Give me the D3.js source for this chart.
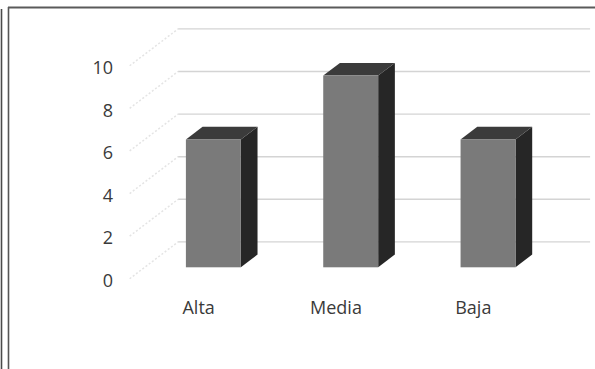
<!DOCTYPE html>
<html>
<head>
<meta charset="utf-8">
<script src="https://cdn.jsdelivr.net/npm/d3@7/dist/d3.min.js"></script>
<style>
  html, body { margin: 0; padding: 0; background: #fff; }
  svg { display: block; }
</style>
</head>
<body>
<svg id="chart" width="595" height="369"></svg>
<script>
// Data
const categories = ["Alta", "Media", "Baja"];
const values = [6, 9, 6];
const yTicks = [0, 2, 4, 6, 8, 10];

const W = 595, H = 369;
const svg = d3.select("#chart");

// Oblique 3D projection: each depth unit shifts right and up
const depthDX = 16.7, depthDY = -12.7;
const zBarFront = 1, zBarBack = 2, zWall = 3;

// Scales on the front (axis) plane
const x = d3.scaleBand().domain(categories).range([128, 540])
  .paddingInner(0.6).paddingOuter(0.3);
const y = d3.scaleLinear().domain([0, 10]).range([280, 67]);

const px = (xv, z) => xv + z * depthDX;
const py = (v, z) => y(v) + z * depthDY;

// Frame
svg.append("line").attr("x1", 1.5).attr("x2", 1.5).attr("y1", 9).attr("y2", H)
  .attr("stroke", "#4a4a4a").attr("stroke-width", 1.6);
svg.append("line").attr("x1", 8.5).attr("x2", 8.5).attr("y1", 7).attr("y2", H)
  .attr("stroke", "#555").attr("stroke-width", 1.6);
svg.append("line").attr("x1", 8).attr("x2", W).attr("y1", 7.5).attr("y2", 7.5)
  .attr("stroke", "#5a5a5a").attr("stroke-width", 2);

// Back wall gridlines
const x0 = x.range()[0], x1 = x.range()[1];
svg.append("g").selectAll("line").data(yTicks).join("line")
  .attr("x1", px(x0, zWall)).attr("x2", px(x1, zWall))
  .attr("y1", d => py(d, zWall)).attr("y2", d => py(d, zWall))
  .attr("stroke", "#d4d4d4").attr("stroke-width", 1.4);

// Side wall depth lines
svg.append("g").selectAll("line").data(yTicks).join("line")
  .attr("x1", px(x0, 0.1)).attr("x2", px(x0, zWall))
  .attr("y1", d => py(d, 0.1)).attr("y2", d => py(d, zWall))
  .attr("stroke", "#e4e4e4").attr("stroke-width", 1.5)
  .attr("stroke-dasharray", "2,2");

// Bars
const bars = svg.append("g").selectAll("g").data(categories.map((c, i) => ({c, v: values[i]})))
  .join("g");
const bw = x.bandwidth();

// right side face
bars.append("path").attr("fill", "#262626")
  .attr("d", d => {
    const xr = x(d.c) + bw;
    return `M${px(xr, zBarFront)},${py(d.v, zBarFront)}` +
      `L${px(xr, zBarBack)},${py(d.v, zBarBack)}` +
      `L${px(xr, zBarBack)},${py(0, zBarBack)}` +
      `L${px(xr, zBarFront)},${py(0, zBarFront)}Z`;
  });
// top face
bars.append("path").attr("fill", "#3b3b3b")
  .attr("d", d => {
    const xl = x(d.c), xr = xl + bw;
    return `M${px(xl, zBarFront)},${py(d.v, zBarFront)}` +
      `L${px(xl, zBarBack)},${py(d.v, zBarBack)}` +
      `L${px(xr, zBarBack)},${py(d.v, zBarBack)}` +
      `L${px(xr, zBarFront)},${py(d.v, zBarFront)}Z`;
  });
// front face
bars.append("rect").attr("fill", "#7a7a7a")
  .attr("x", d => px(x(d.c), zBarFront))
  .attr("y", d => py(d.v, zBarFront))
  .attr("width", bw)
  .attr("height", d => py(0, zBarFront) - py(d.v, zBarFront));

// Y tick labels
svg.append("g").selectAll("text").data(yTicks).join("text")
  .attr("x", 113).attr("y", d => y(d))
  .attr("text-anchor", "end").attr("dominant-baseline", "central")
  .attr("font-family", "Open Sans, sans-serif").attr("font-size", 18)
  .attr("fill", "#3a3a3a")
  .text(d => d);

// Category labels
svg.append("g").selectAll("text").data(categories).join("text")
  .attr("x", d => x(d) + bw / 2 + 2).attr("y", 314)
  .attr("text-anchor", "middle")
  .attr("font-family", "Open Sans, sans-serif").attr("font-size", 18)
  .attr("fill", "#3a3a3a")
  .text(d => d);
</script>
</body>
</html>
